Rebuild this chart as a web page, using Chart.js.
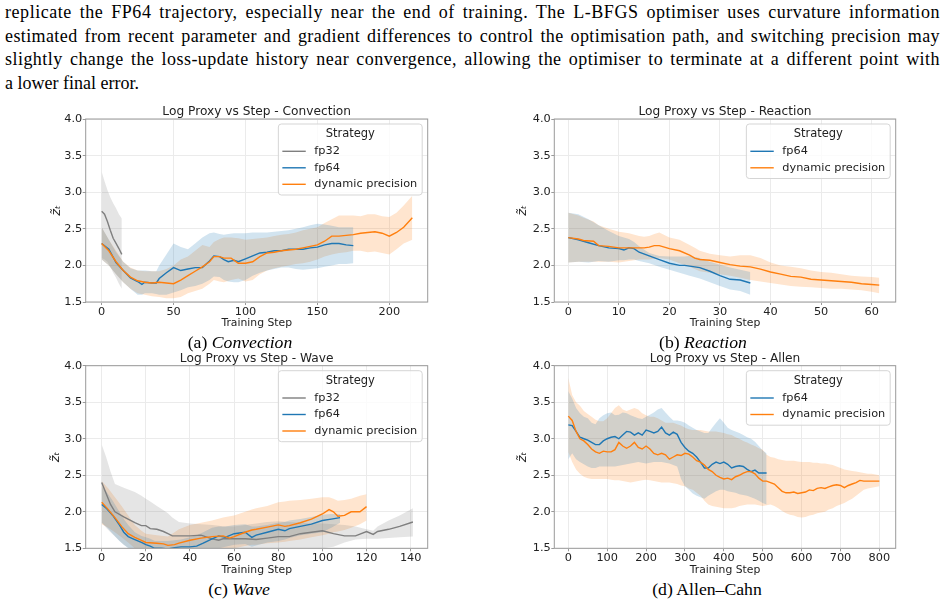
<!DOCTYPE html>
<html>
<head>
<meta charset="utf-8">
<script src="https://cdn.jsdelivr.net/npm/chart.js@4.4.0/dist/chart.umd.min.js"></script>
<style>
  html, body { margin: 0; padding: 0; background: #fff; }
  body { width: 946px; height: 605px; position: relative; overflow: hidden; }
  .para { position: absolute; left: 5px; top: 1px; width: 935px; font-family: 'Liberation Serif', 'Times New Roman', serif; font-size: 18px; line-height: 23.5px; color: #000; }
  .para div { white-space: nowrap; text-align: left; }
  .cap { position: absolute; width: 300px; text-align: center; font-family: 'Liberation Serif', 'Times New Roman', serif; font-size: 17.7px; line-height: 20px; color: #000; }
  canvas { position: absolute; }
</style>
</head>
<body>
<div class="para">
  <div class="fit"><span>replicate the FP64 trajectory, especially near the end of training. The L-BFGS optimiser uses curvature information</span></div>
  <div class="fit"><span>estimated from recent parameter and gradient differences to control the optimisation path, and switching precision may</span></div>
  <div class="fit"><span>slightly change the loss-update history near convergence, allowing the optimiser to terminate at a different point with</span></div>
  <div><span>a lower final error.</span></div>
</div>

<canvas id="convChart" width="400" height="232" style="left:40px;top:100px"></canvas>
<canvas id="reacChart" width="400" height="232" style="left:510px;top:100px"></canvas>
<canvas id="waveChart" width="400" height="232" style="left:40px;top:345px"></canvas>
<canvas id="allenChart" width="400" height="232" style="left:510px;top:345px"></canvas>

<div class="cap" style="left:90px;top:332px">(a) <i>Convection</i></div>
<div class="cap" style="left:553px;top:332px">(b) <i>Reaction</i></div>
<div class="cap" style="left:89px;top:579px">(c) <i>Wave</i></div>
<div class="cap" style="left:557px;top:579px">(d) Allen–Cahn</div>

<script>
// Convection
const convFp32Step = [0, 2, 4, 6, 8, 10, 12, 14];
const convFp32Mean = [2.74, 2.70, 2.60, 2.48, 2.37, 2.30, 2.23, 2.15];
const convFp32Lo = [2.10, 2.08, 2.05, 1.98, 1.90, 1.83, 1.75, 1.68];
const convFp32Hi = [3.28, 3.15, 3.03, 2.93, 2.85, 2.78, 2.70, 2.64];

const convFp64Step = [0, 5, 10, 15, 20, 25, 28, 30, 35, 38, 40, 45, 50, 55, 60, 65, 70, 75, 78, 82,
  85, 88, 92, 95, 100, 105, 110, 115, 120, 125, 130, 135, 140, 145, 150, 155, 160, 165, 170, 175];
const convFp64Mean = [2.30, 2.22, 2.04, 1.93, 1.83, 1.78, 1.74, 1.77, 1.76, 1.76, 1.82, 1.90, 1.97, 1.93, 1.95, 1.97, 1.97, 2.06, 2.13, 2.12,
  2.08, 2.05, 2.07, 2.05, 2.09, 2.13, 2.17, 2.18, 2.20, 2.20, 2.22, 2.22, 2.22, 2.24, 2.25, 2.28, 2.30, 2.30, 2.28, 2.27];
const convFp64Hi = [2.52, 2.35, 2.18, 2.05, 1.96, 1.93, 1.93, 1.93, 1.92, 1.92, 2.00, 2.15, 2.30, 2.25, 2.22, 2.30, 2.38, 2.44, 2.45, 2.43,
  2.42, 2.43, 2.44, 2.44, 2.44, 2.45, 2.45, 2.45, 2.46, 2.47, 2.48, 2.50, 2.52, 2.55, 2.57, 2.56, 2.54, 2.52, 2.52, 2.52];
const convFp64Lo = [2.08, 2.00, 1.88, 1.77, 1.68, 1.60, 1.60, 1.62, 1.62, 1.61, 1.60, 1.60, 1.63, 1.66, 1.70, 1.72, 1.75, 1.80, 1.85, 1.84,
  1.80, 1.78, 1.77, 1.77, 1.80, 1.86, 1.90, 1.93, 1.95, 1.97, 1.97, 1.95, 1.94, 1.95, 1.96, 1.98, 2.00, 2.02, 2.02, 2.03];

const convDynStep = [0, 5, 10, 15, 20, 25, 30, 35, 40, 45, 50, 55, 60, 65, 70, 75, 78, 82, 85,
  90, 95, 100, 105, 110, 115, 120, 125, 130, 135, 140, 145, 150, 155, 160, 165, 170, 175, 180, 185, 190, 195, 200, 205, 210, 216];
const convDynMean = [2.30, 2.20, 2.05, 1.93, 1.84, 1.79, 1.77, 1.76, 1.77, 1.76, 1.75, 1.80, 1.86, 1.92, 1.98, 2.05, 2.12, 2.12, 2.10,
  2.10, 2.03, 2.03, 2.05, 2.12, 2.17, 2.18, 2.20, 2.21, 2.22, 2.24, 2.26, 2.28, 2.33, 2.40, 2.40, 2.41, 2.42, 2.44, 2.45, 2.46, 2.44, 2.40, 2.45, 2.52, 2.65];
const convDynHi = [2.52, 2.35, 2.20, 2.05, 1.97, 1.93, 1.92, 1.92, 1.92, 1.95, 2.00, 2.08, 2.12, 2.20, 2.28, 2.25, 2.32, 2.36, 2.38,
  2.38, 2.37, 2.35, 2.36, 2.37, 2.38, 2.40, 2.42, 2.43, 2.45, 2.48, 2.50, 2.52, 2.58, 2.63, 2.68, 2.68, 2.68, 2.67, 2.70, 2.70, 2.67, 2.66, 2.72, 2.82, 2.95];
const convDynLo = [2.08, 2.00, 1.88, 1.77, 1.68, 1.62, 1.60, 1.58, 1.57, 1.55, 1.55, 1.57, 1.62, 1.65, 1.68, 1.75, 1.80, 1.78, 1.77,
  1.80, 1.82, 1.78, 1.80, 1.88, 1.93, 1.96, 1.98, 2.00, 2.02, 2.03, 2.05, 2.08, 2.12, 2.15, 2.17, 2.18, 2.20, 2.20, 2.18, 2.19, 2.17, 2.15, 2.22, 2.30, 2.35];

// Reaction
const reacFp64Step = [0, 2, 4, 6, 8, 10, 11, 12, 13, 14, 16, 18, 20, 22, 23, 24, 26, 28, 30, 32, 34, 36];
const reacFp64Mean = [2.38, 2.35, 2.31, 2.27, 2.24, 2.23, 2.21, 2.24, 2.23, 2.18, 2.13, 2.08, 2.03, 2.00, 2.00, 1.99, 1.97, 1.92, 1.86, 1.81, 1.80, 1.76];
const reacFp64Hi = [2.72, 2.70, 2.63, 2.55, 2.47, 2.40, 2.38, 2.36, 2.32, 2.26, 2.17, 2.13, 2.12, 2.12, 2.12, 2.13, 2.10, 2.05, 2.01, 1.97, 1.94, 1.91];
const reacFp64Lo = [2.04, 2.05, 2.04, 2.06, 2.05, 2.07, 2.07, 2.08, 2.08, 2.06, 2.03, 1.98, 1.94, 1.90, 1.88, 1.86, 1.82, 1.77, 1.72, 1.67, 1.65, 1.60];

const reacDynStep = [0, 2, 3, 5, 6, 8, 10, 12, 14, 15, 16, 17, 18, 20, 22, 24, 25, 26, 28, 30,
  32, 34, 36, 38, 40, 42, 44, 46, 48, 50, 52, 54, 56, 58, 60, 61.5];
const reacDynMean = [2.38, 2.36, 2.34, 2.33, 2.27, 2.26, 2.24, 2.24, 2.24, 2.24, 2.25, 2.27, 2.27, 2.23, 2.20, 2.14, 2.10, 2.08, 2.07, 2.04,
  2.01, 1.99, 1.98, 1.95, 1.91, 1.88, 1.85, 1.84, 1.81, 1.80, 1.79, 1.78, 1.77, 1.75, 1.74, 1.73];
const reacDynHi = [2.72, 2.68, 2.65, 2.60, 2.55, 2.50, 2.46, 2.44, 2.40, 2.39, 2.40, 2.43, 2.45, 2.38, 2.35, 2.28, 2.24, 2.20, 2.16, 2.14,
  2.12, 2.14, 2.14, 2.10, 2.04, 2.00, 1.98, 1.96, 1.93, 1.91, 1.90, 1.88, 1.86, 1.85, 1.84, 1.83];
const reacDynLo = [2.04, 2.05, 2.05, 2.05, 2.05, 2.05, 2.04, 2.06, 2.08, 2.08, 2.08, 2.09, 2.10, 2.08, 2.03, 1.98, 1.95, 1.92, 1.90, 1.88,
  1.86, 1.83, 1.80, 1.78, 1.76, 1.74, 1.72, 1.71, 1.70, 1.69, 1.68, 1.68, 1.67, 1.66, 1.64, 1.62];

// Wave
const waveFp32Step = [0, 2, 4, 6, 10, 15, 18, 20, 22, 25, 28, 30, 32, 35, 40, 45, 50, 53, 55, 60,
  65, 70, 75, 80, 85, 90, 95, 100, 105, 110, 115, 120, 123, 125, 130, 135, 141];
const waveFp32Mean = [2.40, 2.25, 2.10, 2.00, 1.93, 1.85, 1.81, 1.81, 1.77, 1.76, 1.73, 1.70, 1.67, 1.67, 1.67, 1.68, 1.63, 1.61, 1.63, 1.63,
  1.63, 1.62, 1.64, 1.66, 1.66, 1.70, 1.72, 1.74, 1.70, 1.67, 1.67, 1.73, 1.69, 1.73, 1.76, 1.80, 1.86];
const waveFp32Hi = [2.92, 2.75, 2.55, 2.38, 2.33, 2.27, 2.22, 2.18, 2.14, 2.08, 2.02, 1.98, 1.92, 1.86, 1.84, 1.83, 1.82, 1.81, 1.80, 1.80,
  1.82, 1.84, 1.86, 1.87, 1.86, 1.85, 1.84, 1.84, 1.83, 1.82, 1.80, 1.76, 1.74, 1.80, 1.88, 1.95, 2.05];
const waveFp32Lo = [1.85, 1.78, 1.72, 1.66, 1.55, 1.45, 1.42, 1.40, 1.39, 1.38, 1.38, 1.38, 1.38, 1.39, 1.40, 1.40, 1.40, 1.40, 1.40, 1.40,
  1.41, 1.42, 1.43, 1.45, 1.46, 1.47, 1.48, 1.50, 1.52, 1.58, 1.62, 1.63, 1.63, 1.63, 1.64, 1.65, 1.66];

const waveFp64Step = [0, 2, 5, 8, 10, 12, 15, 18, 20, 22, 24, 27, 30, 33, 36, 40, 43, 46, 50, 53,
  56, 60, 65, 68, 70, 75, 80, 83, 85, 90, 95, 100, 104, 108];
const waveFp64Mean = [2.10, 2.05, 1.95, 1.82, 1.72, 1.66, 1.62, 1.58, 1.55, 1.53, 1.50, 1.50, 1.49, 1.51, 1.52, 1.52, 1.53, 1.57, 1.63, 1.67,
  1.65, 1.70, 1.72, 1.65, 1.68, 1.72, 1.76, 1.74, 1.77, 1.80, 1.83, 1.88, 1.90, 1.92];
const waveFp64Hi = [2.35, 2.28, 2.15, 2.00, 1.90, 1.82, 1.72, 1.67, 1.65, 1.63, 1.60, 1.60, 1.60, 1.61, 1.62, 1.65, 1.68, 1.72, 1.78, 1.80,
  1.80, 1.82, 1.83, 1.80, 1.80, 1.82, 1.85, 1.86, 1.88, 1.90, 1.93, 1.96, 1.97, 1.97];
const waveFp64Lo = [1.85, 1.80, 1.70, 1.60, 1.55, 1.50, 1.45, 1.40, 1.38, 1.36, 1.35, 1.35, 1.35, 1.36, 1.37, 1.38, 1.40, 1.43, 1.45, 1.50,
  1.52, 1.55, 1.56, 1.52, 1.54, 1.58, 1.60, 1.62, 1.64, 1.68, 1.70, 1.72, 1.78, 1.85];

const waveDynStep = [0, 3, 6, 9, 12, 15, 18, 20, 25, 28, 30, 33, 35, 40, 45, 50, 55, 58, 60, 65,
  68, 70, 75, 80, 83, 85, 90, 95, 100, 103, 105, 107, 110, 113, 117, 120];
const waveDynMean = [2.13, 2.03, 1.92, 1.80, 1.70, 1.65, 1.61, 1.58, 1.57, 1.56, 1.54, 1.55, 1.57, 1.61, 1.64, 1.66, 1.67, 1.64, 1.66, 1.72,
  1.75, 1.76, 1.79, 1.82, 1.80, 1.81, 1.85, 1.90, 1.97, 2.03, 2.00, 1.94, 1.95, 2.00, 2.00, 2.07];
const waveDynHi = [2.42, 2.32, 2.20, 2.08, 1.95, 1.82, 1.74, 1.70, 1.68, 1.67, 1.66, 1.72, 1.76, 1.82, 1.85, 1.88, 1.92, 1.94, 1.95, 2.00,
  2.03, 2.05, 2.08, 2.13, 2.14, 2.15, 2.16, 2.18, 2.20, 2.20, 2.18, 2.15, 2.16, 2.18, 2.22, 2.24];
const waveDynLo = [1.83, 1.78, 1.72, 1.65, 1.58, 1.50, 1.47, 1.45, 1.43, 1.42, 1.42, 1.42, 1.42, 1.42, 1.43, 1.45, 1.47, 1.48, 1.50, 1.53,
  1.55, 1.55, 1.57, 1.58, 1.59, 1.60, 1.62, 1.65, 1.68, 1.70, 1.72, 1.73, 1.75, 1.78, 1.83, 1.88];

// Allen-Cahn (fp64 stops at step 510)
const allenStep = [0, 10, 20, 30, 40, 50, 60, 70, 80, 90, 100, 110, 120, 130, 140, 150, 160, 170, 180, 190,
  200, 210, 220, 230, 240, 250, 260, 270, 280, 290, 300, 310, 320, 330, 340, 350, 360, 370, 380, 390,
  400, 410, 420, 430, 440, 450, 460, 470, 480, 490, 500, 510, 520, 530, 540, 550, 560, 570, 580, 590,
  600, 610, 620, 630, 640, 650, 660, 670, 680, 690, 700, 710, 720, 730, 740, 750, 760, 770, 780, 790, 800];
const allenFp64Mean = [3.19, 3.18, 3.10, 3.02, 3.00, 2.98, 2.95, 2.92, 2.92, 2.97, 3.00, 3.02, 3.03, 3.00, 3.05, 3.10, 3.09, 3.05, 3.08, 3.05,
  3.12, 3.10, 3.08, 3.10, 3.16, 3.08, 3.05, 3.09, 3.06, 2.95, 2.88, 2.83, 2.80, 2.75, 2.68, 2.60, 2.60, 2.65, 2.68, 2.66,
  2.68, 2.65, 2.60, 2.62, 2.63, 2.62, 2.58, 2.55, 2.57, 2.53, 2.53, 2.53];
const allenFp64Hi = [3.65, 3.55, 3.42, 3.35, 3.30, 3.28, 3.22, 3.20, 3.28, 3.32, 3.35, 3.36, 3.32, 3.33, 3.36, 3.35, 3.32, 3.30, 3.28, 3.27,
  3.30, 3.33, 3.36, 3.40, 3.42, 3.36, 3.30, 3.25, 3.25, 3.24, 3.22, 3.18, 3.15, 3.12, 3.10, 3.08, 3.08, 3.15, 3.22, 3.28,
  3.22, 3.15, 3.12, 3.10, 3.08, 3.05, 3.02, 3.00, 2.96, 2.90, 2.84, 2.80];
const allenFp64Lo = [2.72, 2.80, 2.72, 2.68, 2.65, 2.62, 2.60, 2.60, 2.62, 2.62, 2.62, 2.62, 2.62, 2.63, 2.64, 2.65, 2.66, 2.67, 2.68, 2.67,
  2.66, 2.67, 2.68, 2.68, 2.68, 2.67, 2.66, 2.64, 2.62, 2.45, 2.35, 2.30, 2.25, 2.22, 2.20, 2.18, 2.22, 2.25, 2.28, 2.30,
  2.30, 2.28, 2.27, 2.26, 2.24, 2.23, 2.22, 2.20, 2.18, 2.15, 2.12, 2.10];
const allenDynMean = [3.31, 3.25, 3.10, 3.00, 2.97, 2.92, 2.86, 2.82, 2.80, 2.83, 2.82, 2.82, 2.85, 2.95, 2.90, 2.87, 2.90, 2.95, 2.88, 2.86,
  2.90, 2.86, 2.80, 2.78, 2.80, 2.78, 2.72, 2.75, 2.78, 2.77, 2.80, 2.79, 2.75, 2.70, 2.68, 2.64, 2.58, 2.55, 2.50, 2.47,
  2.45, 2.46, 2.44, 2.48, 2.50, 2.53, 2.55, 2.55, 2.52, 2.46, 2.42, 2.42, 2.40, 2.38, 2.33, 2.28, 2.26, 2.26, 2.27, 2.25,
  2.26, 2.27, 2.30, 2.29, 2.32, 2.33, 2.32, 2.34, 2.36, 2.37, 2.36, 2.33, 2.36, 2.38, 2.40, 2.43, 2.42, 2.42, 2.42, 2.42, 2.42];
const allenDynHi = [3.83, 3.60, 3.50, 3.45, 3.38, 3.34, 3.30, 3.26, 3.24, 3.24, 3.28, 3.35, 3.42, 3.46, 3.40, 3.38, 3.40, 3.42, 3.40, 3.35,
  3.32, 3.30, 3.30, 3.28, 3.25, 3.22, 3.22, 3.22, 3.20, 3.18, 3.15, 3.13, 3.12, 3.12, 3.12, 3.11, 3.10, 3.10, 3.10, 3.09,
  3.08, 3.06, 3.05, 3.02, 3.00, 2.97, 2.95, 2.92, 2.90, 2.87, 2.85, 2.78, 2.75, 2.74, 2.72, 2.71, 2.70, 2.70, 2.70, 2.69,
  2.68, 2.68, 2.68, 2.67, 2.67, 2.66, 2.66, 2.65, 2.64, 2.62, 2.60, 2.58, 2.57, 2.56, 2.55, 2.54, 2.53, 2.52, 2.52, 2.51, 2.50];
const allenDynLo = [2.82, 2.68, 2.58, 2.52, 2.48, 2.46, 2.45, 2.45, 2.45, 2.45, 2.45, 2.44, 2.43, 2.43, 2.42, 2.41, 2.40, 2.41, 2.42, 2.43,
  2.44, 2.43, 2.42, 2.41, 2.40, 2.40, 2.40, 2.39, 2.38, 2.36, 2.35, 2.32, 2.30, 2.26, 2.22, 2.15, 2.10, 2.08, 2.07, 2.06,
  2.05, 2.05, 2.05, 2.06, 2.08, 2.09, 2.10, 2.10, 2.10, 2.09, 2.08, 2.09, 2.10, 2.08, 2.05, 2.01, 1.98, 1.96, 1.95, 1.93,
  1.92, 1.93, 1.95, 1.96, 1.98, 1.99, 2.00, 2.03, 2.05, 2.08, 2.10, 2.12, 2.15, 2.18, 2.22, 2.26, 2.30, 2.32, 2.33, 2.34, 2.35];

const yTicks = [1.5, 2.0, 2.5, 3.0, 3.5, 4.0];

const FP32 = '#7f7f7f';
const FP64 = '#1f77b4';
const DYN = '#ff7f0e';
const FP32_BAND = 'rgba(127,127,127,0.2)';
const FP64_BAND = 'rgba(31,119,180,0.2)';
const DYN_BAND = 'rgba(255,127,14,0.2)';
const GRID = '#ebebeb';
const FRAME = '#9a9a9a';
const TEXT = '#222';

// justified paragraph lines: take up part of the slack with letter spacing
document.querySelectorAll('.para .fit').forEach((el) => {
  const span = el.querySelector('span');
  const slack = 935 - span.getBoundingClientRect().width;
  el.style.letterSpacing = (slack * 0.6 / span.textContent.length) + 'px';
  el.style.textAlign = 'justify';
  el.style.textAlignLast = 'justify';
});

Chart.defaults.font.family = "'DejaVu Sans', sans-serif";
Chart.defaults.color = TEXT;

const pts = (xs, ys) => xs.map((x, i) => ({x: x, y: ys[i]}));

const line = (label, color, xs, ys, order) => ({
  label: label, data: pts(xs, ys), borderColor: color, borderWidth: 1.4,
  pointRadius: 0, fill: false, order: order,
});

// upper edge fills down to the next dataset (the lower edge)
const band = (color, xs, lo, hi) => [
  {band: true, data: pts(xs, hi), borderWidth: 0, pointRadius: 0, backgroundColor: color, fill: '+1', order: 10},
  {band: true, data: pts(xs, lo), borderWidth: 0, pointRadius: 0, fill: false, order: 10},
];

// frame round the plot area
const frame = {
  id: 'frame',
  afterDatasetsDraw(chart) {
    const {ctx, chartArea: a} = chart;
    ctx.save();
    ctx.strokeStyle = FRAME;
    ctx.lineWidth = 1;
    ctx.strokeRect(a.left, a.top, a.right - a.left, a.bottom - a.top);
    ctx.restore();
  }
};

// title centred over the plot area, not the canvas
const plotTitle = {
  id: 'plotTitle',
  afterDraw(chart, args, opts) {
    const {ctx, chartArea: a} = chart;
    ctx.save();
    ctx.font = "12.2px 'DejaVu Sans'";
    ctx.fillStyle = TEXT;
    ctx.textAlign = 'center';
    ctx.textBaseline = 'middle';
    ctx.fillText(opts.text, (a.left + a.right) / 2, a.top - opts.gap);
    ctx.restore();
  }
};

// matplotlib-like legend box in the upper right
const strategyLegend = {
  id: 'strategyLegend',
  afterDraw(chart) {
    const {ctx, chartArea: a} = chart;
    const items = chart.data.datasets.filter((d) => !d.band);
    ctx.save();
    ctx.font = "11.3px 'DejaVu Sans'";
    const textW = Math.max(...items.map((d) => ctx.measureText(d.label).width));
    const w = 41 + textW;
    const h = 21.5 + 16.5 * items.length;
    const x0 = a.right - 5.5 - w;
    const y0 = a.top + 5;
    ctx.beginPath();
    ctx.roundRect(x0, y0, w, h, 3);
    ctx.fillStyle = 'rgba(255,255,255,0.8)';
    ctx.fill();
    ctx.strokeStyle = '#d5d5d5';
    ctx.lineWidth = 1;
    ctx.stroke();
    ctx.fillStyle = TEXT;
    ctx.textBaseline = 'middle';
    ctx.textAlign = 'center';
    ctx.font = "11.5px 'DejaVu Sans'";
    ctx.fillText('Strategy', x0 + w / 2, y0 + 10.3);
    ctx.font = "11.3px 'DejaVu Sans'";
    ctx.textAlign = 'left';
    items.forEach((d, i) => {
      const y = y0 + 27.3 + 16.5 * i;
      ctx.strokeStyle = d.borderColor;
      ctx.lineWidth = 1.4;
      ctx.beginPath();
      ctx.moveTo(x0 + 4, y);
      ctx.lineTo(x0 + 27.4, y);
      ctx.stroke();
      ctx.fillText(d.label, x0 + 36, y);
    });
    ctx.restore();
  }
};

const makeChart = (id, o) => new Chart(document.getElementById(id), {
  type: 'line',
  data: {datasets: o.datasets},
  options: {
    responsive: false,
    animation: false,
    events: [],
    layout: {padding: {left: 0, right: o.padRight, top: o.plotTop, bottom: 0}},
    plugins: {
      legend: {display: false},
      tooltip: {enabled: false},
      title: {display: false},
      plotTitle: {text: o.title, gap: o.titleGap},
    },
    scales: {
      x: {
        type: 'linear', min: o.xMin, max: o.xMax,
        afterFit: (s) => { s.height = o.xHeight; },
        ticks: {stepSize: o.xStep, includeBounds: false, font: {size: 11.3}, padding: 0, maxRotation: 0},
        grid: {color: GRID, tickLength: 3, tickColor: FRAME},
        border: {display: false},
        title: {display: true, text: 'Training Step', font: {size: 10.8}, padding: {top: 0, bottom: o.xTitleBottom}},
      },
      y: {
        type: 'linear', min: 1.5, max: 4.0,
        afterFit: (s) => { s.width = o.yWidth; },
        afterBuildTicks: (s) => { s.ticks = yTicks.map((v) => ({value: v})); },
        ticks: {font: {size: 11.3}, padding: 0.5, callback: (v) => v.toFixed(1)},
        grid: {color: GRID, tickLength: 3, tickColor: FRAME},
        border: {display: false},
        title: {display: true, text: 'z\u0303\u209c', font: {size: 13, style: 'italic'}, padding: {top: o.yTitleLeft, bottom: 0}},
      },
    },
  },
  plugins: [frame, plotTitle, strategyLegend],
});

makeChart('convChart', {
  title: 'Log Proxy vs Step - Convection',
  xMin: -11.1, xMax: 226.7, xStep: 50,
  yWidth: 45.7, padRight: 12.3, plotTop: 19, titleGap: 7.3,
  xHeight: 30, xTitleBottom: 2.8, yTitleLeft: 9,
  datasets: [
    line('fp32', FP32, convFp32Step, convFp32Mean, 3),
    line('fp64', FP64, convFp64Step, convFp64Mean, 2),
    line('dynamic precision', DYN, convDynStep, convDynMean, 1),
    ...band(FP32_BAND, convFp32Step, convFp32Lo, convFp32Hi),
    ...band(FP64_BAND, convFp64Step, convFp64Lo, convFp64Hi),
    ...band(DYN_BAND, convDynStep, convDynLo, convDynHi),
  ],
});

makeChart('reacChart', {
  title: 'Log Proxy vs Step - Reaction',
  xMin: -2.77, xMax: 64.75, xStep: 10,
  yWidth: 44.3, padRight: 14.3, plotTop: 19, titleGap: 7.3,
  xHeight: 30, xTitleBottom: 2.8, yTitleLeft: 5,
  datasets: [
    line('fp64', FP64, reacFp64Step, reacFp64Mean, 2),
    line('dynamic precision', DYN, reacDynStep, reacDynMean, 1),
    ...band(FP64_BAND, reacFp64Step, reacFp64Lo, reacFp64Hi),
    ...band(DYN_BAND, reacDynStep, reacDynLo, reacDynHi),
  ],
});

makeChart('waveChart', {
  title: 'Log Proxy vs Step - Wave',
  xMin: -7.25, xMax: 147.7, xStep: 20,
  yWidth: 45.7, padRight: 12.3, plotTop: 20.7, titleGap: 6.7,
  xHeight: 28.7, xTitleBottom: 0.3, yTitleLeft: 8.3,
  datasets: [
    line('fp32', FP32, waveFp32Step, waveFp32Mean, 3),
    line('fp64', FP64, waveFp64Step, waveFp64Mean, 2),
    line('dynamic precision', DYN, waveDynStep, waveDynMean, 1),
    ...band(FP32_BAND, waveFp32Step, waveFp32Lo, waveFp32Hi),
    ...band(FP64_BAND, waveFp64Step, waveFp64Lo, waveFp64Hi),
    ...band(DYN_BAND, waveDynStep, waveDynLo, waveDynHi),
  ],
});

const allenFp64Step = allenStep.slice(0, allenFp64Mean.length);
makeChart('allenChart', {
  title: 'Log Proxy vs Step - Allen',
  xMin: -36, xMax: 842, xStep: 100,
  yWidth: 44.3, padRight: 14.3, plotTop: 20.7, titleGap: 6.7,
  xHeight: 28.7, xTitleBottom: 0.3, yTitleLeft: 4.6,
  datasets: [
    line('fp64', FP64, allenFp64Step, allenFp64Mean, 2),
    line('dynamic precision', DYN, allenStep, allenDynMean, 1),
    ...band(FP64_BAND, allenFp64Step, allenFp64Lo, allenFp64Hi),
    ...band(DYN_BAND, allenStep, allenDynLo, allenDynHi),
  ],
});
</script>
</body>
</html>
